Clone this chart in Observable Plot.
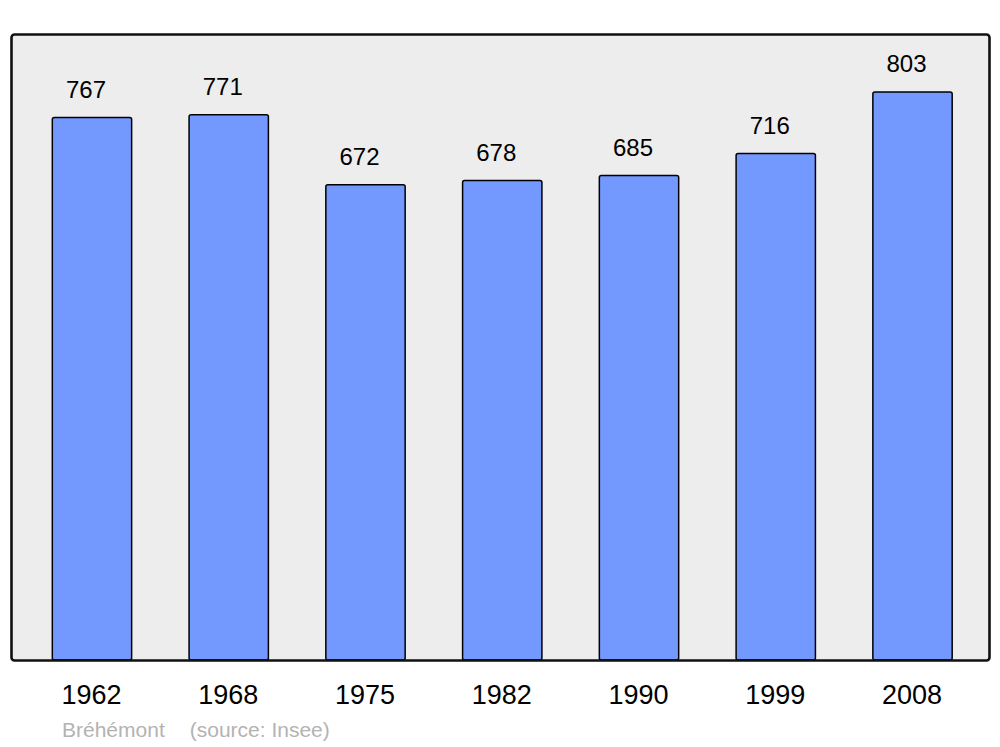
<!DOCTYPE html>
<html>
<head>
<meta charset="utf-8">
<script src="https://cdn.jsdelivr.net/npm/d3@7"></script>
<script src="https://cdn.jsdelivr.net/npm/@observablehq/plot@0.6"></script>
<style>
  body { margin: 0; background: #ffffff; font-family: "Liberation Sans", Arial, sans-serif; }
  #caption { font-size: 21px; color: #b3b3b3; padding-left: 62px; line-height: 30px; white-space: pre; height: 32px; }
  #caption .src { margin-left: 25px; }
</style>
</head>
<body>
<div id="chart"></div>
<div id="caption"><span class="name"></span><span class="src"></span></div>
<script>
const years = ["1962", "1968", "1975", "1982", "1990", "1999", "2008"];
const population = [767, 771, 672, 678, 685, 716, 803];
const commune = "Bréhémont";
const source = "(source: Insee)";

const data = years.map((y, i) => ({year: y, value: population[i]}));

const chart = Plot.plot({
  width: 1000,
  height: 715,
  marginTop: 34,
  marginBottom: 55,
  marginLeft: 11,
  marginRight: 11,
  style: {fontFamily: "'Liberation Sans', Arial, sans-serif", background: "#ffffff"},
  x: {domain: years, range: [23.6, 980.9], paddingInner: 0.42, paddingOuter: 0.21, round: false, axis: null},
  y: {domain: [0, 885], axis: null},
  marks: [
    Plot.frame({fill: "#ededed", stroke: "none", rx: 3}),
    Plot.barY(data, {x: "year", y: "value", fill: "#7399ff", stroke: "#000000", strokeWidth: 1.5, rx: 2}),
    Plot.frame({stroke: "#111111", strokeWidth: 2.6, rx: 3}),
    Plot.text(data, {x: "year", y: "value", text: d => String(d.value), dy: -28, dx: -6.5, fontSize: 24, fill: "#000000", lineAnchor: "middle"}),
    Plot.text(years, {x: d => d, frameAnchor: "bottom", text: d => d, dy: 35, dx: -1, fontSize: 27, fill: "#000000", lineAnchor: "middle"})
  ]
});
document.getElementById("chart").appendChild(chart);
document.querySelector("#caption .name").textContent = commune;
document.querySelector("#caption .src").textContent = source;
</script>
</body>
</html>
